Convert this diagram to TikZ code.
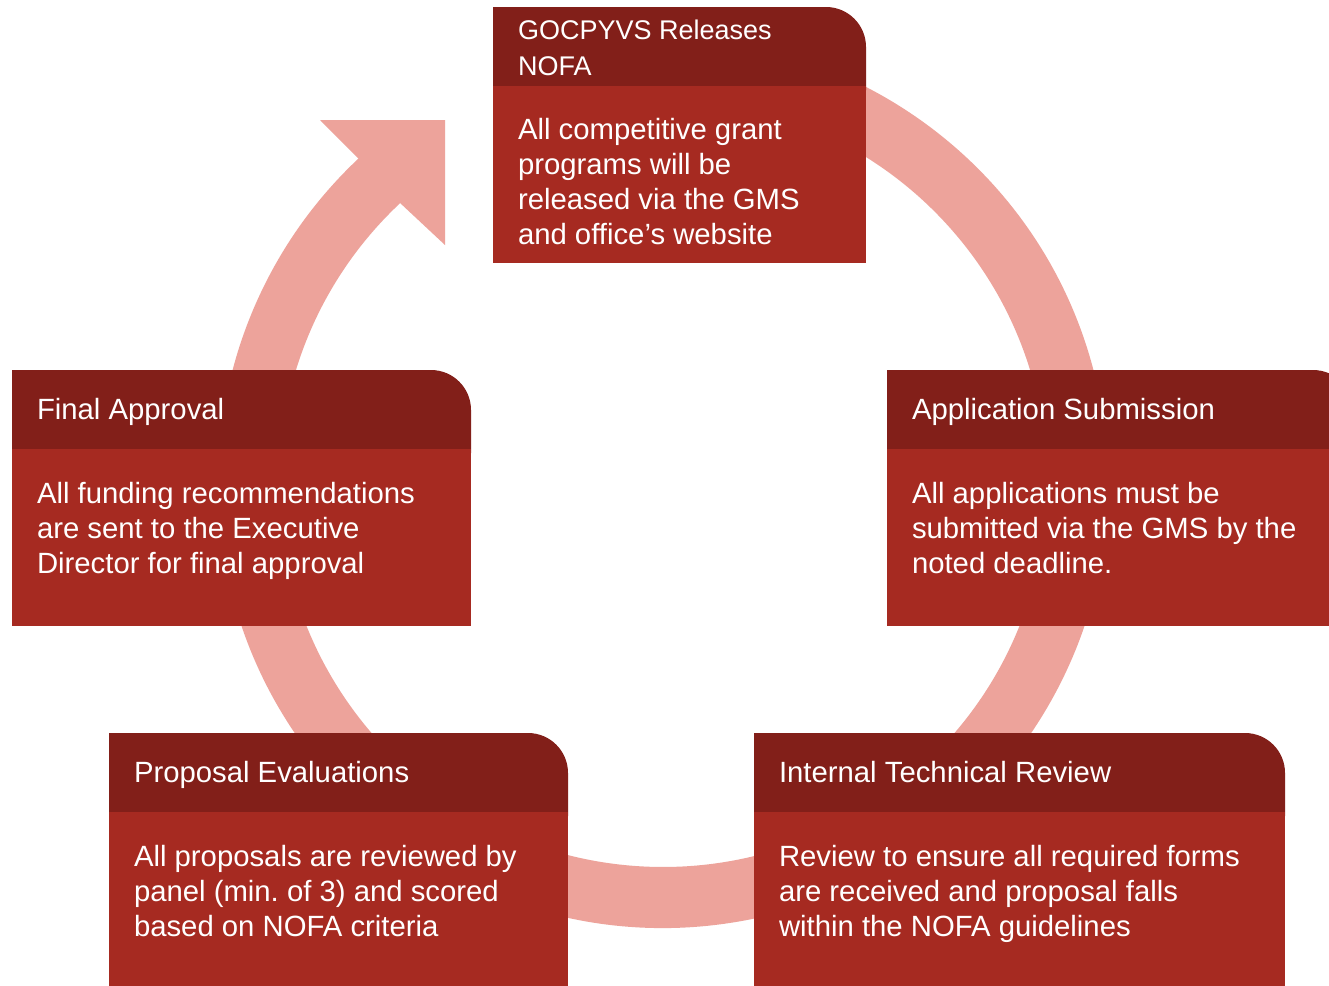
\documentclass[tikz,border=0pt]{standalone}
\usepackage{fontspec}
\setmainfont{Liberation Sans}
\usetikzlibrary{calc}
\definecolor{ringc}{HTML}{EDA39B}
\definecolor{hdrc}{HTML}{821F19}
\definecolor{bodyc}{HTML}{A62A21}
\newcommand{\firstln}{\rule{0pt}{22pt}}
\frenchspacing
\begin{document}
\begin{tikzpicture}[x=1pt,y=-1pt,
  txt/.style={anchor=north west, inner sep=0pt, outer sep=0pt, align=left, text=white, font=\fontsize{29.3}{35}\selectfont},
  toptxt/.style={txt, font=\fontsize{27}{36.5}\selectfont},
  hdr/.style={fill=hdrc}, bdy/.style={fill=bodyc}, ring/.style={fill=ringc}]
\clip (0,0) rectangle (1329,985);
\fill[white] (0,0) rectangle (1329,985);
\coordinate (C) at (663,483);
\coordinate (tipA) at (320,120);
\coordinate (tipB) at (445,120);
\coordinate (tipC) at (445,245);
% cycle arrow ring
\fill[ring] ($(C)+(-100:445)$) arc[start angle=-100, end angle=226.8, radius=445]
  -- (tipA) -- (tipB) -- (tipC)
  -- ($(C)+(226.8:384)$) arc[start angle=226.8, end angle=-100, radius=384] -- cycle;
% top box
\fill[hdr] (493,90) -- (493,7) -- (826,7) arc[start angle=-90, end angle=0, radius=40] -- (866,90) -- cycle;
\fill[bdy] (493,86) rectangle (866,263);
% final approval
\fill[hdr] (12,453) -- (12,370) -- (431,370) arc[start angle=-90, end angle=0, radius=40] -- (471,453) -- cycle;
\fill[bdy] (12,449) rectangle (471,626);
% application submission
\fill[hdr] (887,453) -- (887,370) -- (1313,370) arc[start angle=-90, end angle=0, radius=40] -- (1353,453) -- cycle;
\fill[bdy] (887,449) rectangle (1353,626);
% proposal evaluations
\fill[hdr] (109,816) -- (109,733) -- (528,733) arc[start angle=-90, end angle=0, radius=40] -- (568,816) -- cycle;
\fill[bdy] (109,812) rectangle (568,990);
% internal technical review
\fill[hdr] (754,816) -- (754,733) -- (1245,733) arc[start angle=-90, end angle=0, radius=40] -- (1285,816) -- cycle;
\fill[bdy] (754,812) rectangle (1285,990);
% texts
\node[toptxt] (th) at (518,17) {\firstln GOCPYVS Releases\\NOFA};
\node[txt] (tb) at (518,117) {\firstln All competitive grant\\programs will be\\released via the GMS\\and office’s website};
\node[txt] (fh) at (37,397) {\firstln Final Approval};
\node[txt] (fb) at (37,481) {\firstln All funding recommendations\\are sent to the Executive\\Director for final approval};
\node[txt] (ah) at (912,397) {\firstln Application Submission};
\node[txt] (ab) at (912,481) {\firstln All applications must be\\submitted via the GMS by the\\noted deadline.};
\node[txt] (ph) at (134,760) {\firstln Proposal Evaluations};
\node[txt] (pb) at (134,844) {\firstln All proposals are reviewed by\\panel (min. of 3) and scored\\based on NOFA criteria};
\node[txt] (ih) at (779,760) {\firstln Internal Technical Review};
\node[txt] (ib) at (779,844) {\firstln Review to ensure all required forms\\are received and proposal falls\\within the NOFA guidelines};
\end{tikzpicture}
\end{document}
